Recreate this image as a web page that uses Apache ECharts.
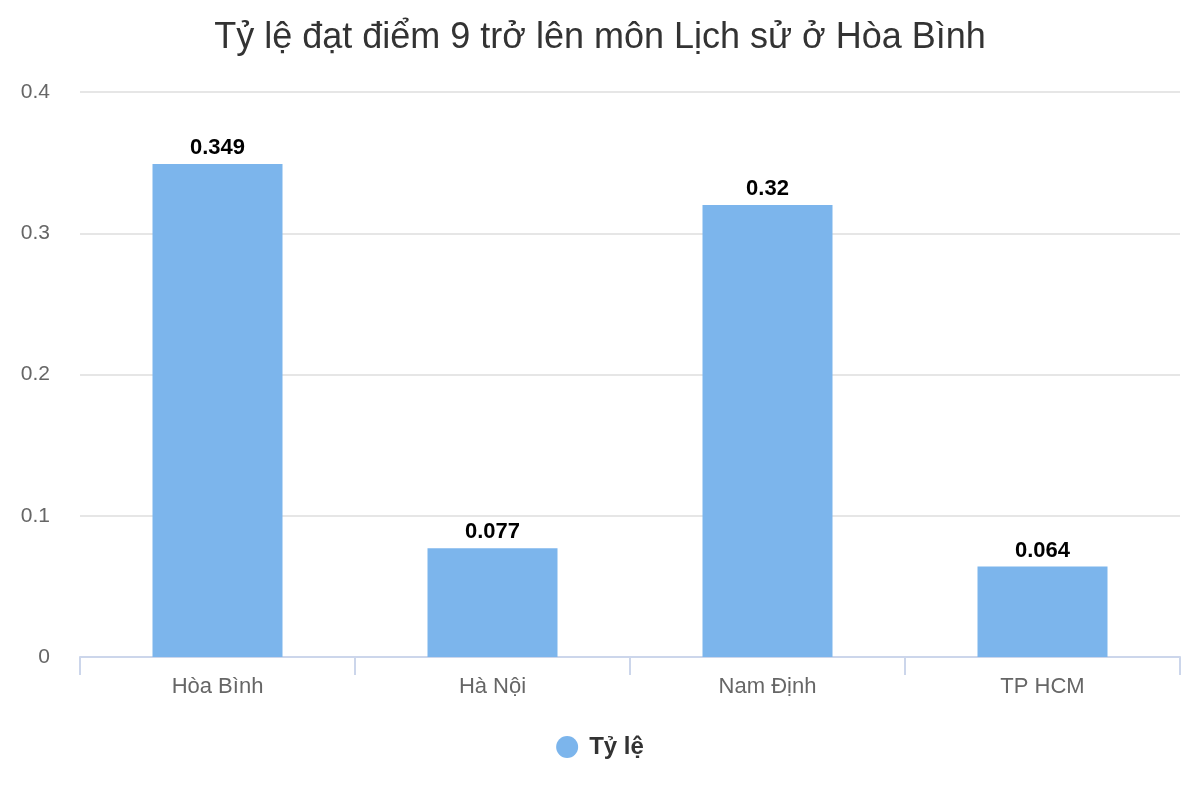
<!DOCTYPE html>
<html>
<head>
<meta charset="utf-8">
<script src="https://cdn.jsdelivr.net/npm/echarts@6/dist/echarts.min.js"></script>
<style>html,body{margin:0;padding:0;background:#fff}#c{width:1200px;height:800px}</style>
</head>
<body>
<div id="c"></div>
<script>
var categories = ['Hòa Bình', 'Hà Nội', 'Nam Định', 'TP HCM'];
var values = [0.349, 0.077, 0.32, 0.064];
var seriesName = 'Tỷ lệ';
var titleText = 'Tỷ lệ đạt điểm 9 trở lên môn Lịch sử ở Hòa Bình';

var chart = echarts.init(document.getElementById('c'));
chart.setOption({
  animation: false,
  textStyle: { fontFamily: 'Liberation Sans, Arial, sans-serif' },
  title: {
    text: titleText, left: 'center', top: 15,
    textStyle: { fontSize: 36, fontWeight: 'normal', color: '#333', fontFamily: 'Liberation Sans, Arial, sans-serif' }
  },
  grid: { left: 80, right: 20, top: 92, bottom: 143, containLabel: false },
  legend: {
    data: [seriesName], bottom: 36, left: 'center', icon: 'circle', itemWidth: 22, itemHeight: 22, itemGap: 8,
    textStyle: { fontSize: 24, fontWeight: 'bold', color: '#333', padding: [0, 0, 0, 6] }
  },
  xAxis: {
    type: 'category', data: categories,
    axisLine: { lineStyle: { color: '#ccd6eb', width: 2 } },
    axisTick: { show: true, length: 18, lineStyle: { color: '#ccd6eb', width: 2 } },
    axisLabel: { fontSize: 22, color: '#666', margin: 19 }
  },
  yAxis: {
    type: 'value', min: 0, max: 0.4, interval: 0.1,
    axisLabel: { fontSize: 21, color: '#666', margin: 30, padding: [4, 0, 0, 0] },
    splitLine: { lineStyle: { color: '#e6e6e6', width: 2 } },
    axisLine: { show: false }, axisTick: { show: false }
  },
  series: [{
    name: seriesName, type: 'bar', data: values, barWidth: 130,
    itemStyle: { color: '#7cb5ec' },
    label: { show: true, position: 'top', distance: 5, fontSize: 22, fontWeight: 'bold', color: '#000' }
  }]
});
</script>
</body>
</html>
